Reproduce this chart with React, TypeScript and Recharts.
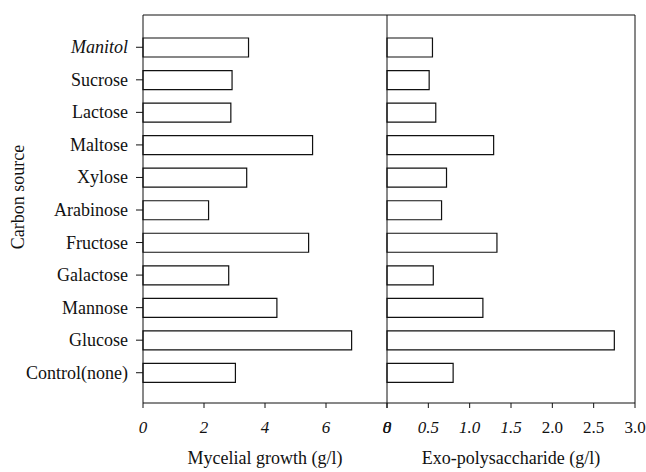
import React from 'react';
import { BarChart, Bar, XAxis, YAxis, Label } from 'recharts';

// carbon sources, top to bottom as drawn
const carbonSources = [
  'Manitol', 'Sucrose', 'Lactose', 'Maltose', 'Xylose', 'Arabinose',
  'Fructose', 'Galactose', 'Mannose', 'Glucose', 'Control(none)',
];
// mycelial growth (g/l)
const myceliaValues = [3.46, 2.92, 2.88, 5.56, 3.4, 2.15, 5.43, 2.81, 4.39, 6.84, 3.03];
// exo-polysaccharide (g/l)
const epsValues = [0.55, 0.51, 0.59, 1.29, 0.72, 0.66, 1.33, 0.56, 1.16, 2.75, 0.8];

const myceliaTicks = [0, 2, 4, 6, 8];
const epsTicks = [0, 0.5, 1.0, 1.5, 2.0, 2.5, 3.0];

const data = carbonSources.map((name, i) => ({
  name,
  mycelia: myceliaValues[i],
  eps: epsValues[i],
}));

const FONT = '"Liberation Serif", "Times New Roman", serif';
const INK = '#111';
const catPadding = { top: 16, bottom: 14 };

const CategoryTick = (props: any) => {
  const { x, y, payload } = props;
  return (
    <text
      x={x}
      y={y}
      textAnchor="end"
      dominantBaseline="central"
      fontFamily={FONT}
      fontSize={18}
      fontStyle={payload.value === 'Manitol' ? 'italic' : 'normal'}
      fill={INK}
    >
      {payload.value}
    </text>
  );
};

const makeNumberTick = (fmt: (v: number) => string, italicBelow: number) => (props: any) => {
  const { x, y, payload } = props;
  return (
    <text
      x={x}
      y={y}
      dy={21}
      textAnchor="middle"
      fontFamily={FONT}
      fontSize={17}
      fontStyle={payload.value < italicBelow ? 'italic' : 'normal'}
      fill={INK}
    >
      {fmt(payload.value)}
    </text>
  );
};

const MyceliaTick = makeNumberTick((v) => String(v), 100);
const EpsTick = makeNumberTick((v) => (v === 0 ? '0' : v.toFixed(1)), 2);

export default function App() {
  return (
    <div style={{ position: 'absolute', left: 0, top: 0, width: 646, height: 472, background: '#fff', fontFamily: FONT }}>
      {/* left panel: mycelial growth */}
      <div style={{ position: 'absolute', left: 0, top: 0 }}>
        <BarChart
          width={410}
          height={472}
          data={data}
          layout="vertical"
          margin={{ top: 14, right: 23, bottom: 0, left: 0 }}
        >
          <XAxis
            type="number"
            domain={[0, 8]}
            ticks={myceliaTicks}
            height={69}
            tickSize={5}
            tickMargin={4}
            tick={<MyceliaTick />}
            stroke={INK}
            interval={0}
          >
            <Label
              value="Mycelial growth (g/l)"
              position="insideBottom"
              offset={8}
              style={{ fontFamily: FONT, fontSize: 18, fill: INK }}
            />
          </XAxis>
          <XAxis xAxisId="top" orientation="top" type="number" domain={[0, 8]} height={1} tick={false} tickLine={false} stroke={INK} />
          <YAxis
            type="category"
            dataKey="name"
            width={143}
            padding={catPadding}
            tickSize={7}
            tickMargin={8}
            tick={<CategoryTick />}
            stroke={INK}
            interval={0}
          >
            <Label
              content={() => (
                <text
                  x={18}
                  y={197}
                  transform="rotate(-90 18 197)"
                  textAnchor="middle"
                  dominantBaseline="central"
                  fontFamily={FONT}
                  fontSize={18}
                  fill={INK}
                >
                  Carbon source
                </text>
              )}
            />
          </YAxis>
          <Bar dataKey="mycelia" fill="#fff" stroke={INK} strokeWidth={1.2} barSize={19} isAnimationActive={false} />
        </BarChart>
      </div>

      {/* right panel: exo-polysaccharide */}
      <div style={{ position: 'absolute', left: 360, top: 0 }}>
        <BarChart
          width={286}
          height={472}
          data={data}
          layout="vertical"
          margin={{ top: 14, right: 10, bottom: 0, left: 26 }}
        >
          <XAxis
            type="number"
            domain={[0, 3]}
            ticks={epsTicks}
            height={69}
            tickSize={5}
            tickMargin={4}
            tick={<EpsTick />}
            stroke={INK}
            interval={0}
          >
            <Label
              value="Exo-polysaccharide (g/l)"
              position="insideBottom"
              offset={8}
              style={{ fontFamily: FONT, fontSize: 18, fill: INK }}
            />
          </XAxis>
          <XAxis xAxisId="top" orientation="top" type="number" domain={[0, 3]} height={1} tick={false} tickLine={false} stroke={INK} />
          <YAxis type="category" dataKey="name" width={1} padding={catPadding} tick={false} tickLine={false} stroke={INK} />
          <YAxis yAxisId="right" orientation="right" type="category" dataKey="name" width={1} padding={catPadding} tick={false} tickLine={false} stroke={INK} />
          <Bar dataKey="eps" fill="#fff" stroke={INK} strokeWidth={1.2} barSize={19} isAnimationActive={false} />
        </BarChart>
      </div>
    </div>
  );
}
